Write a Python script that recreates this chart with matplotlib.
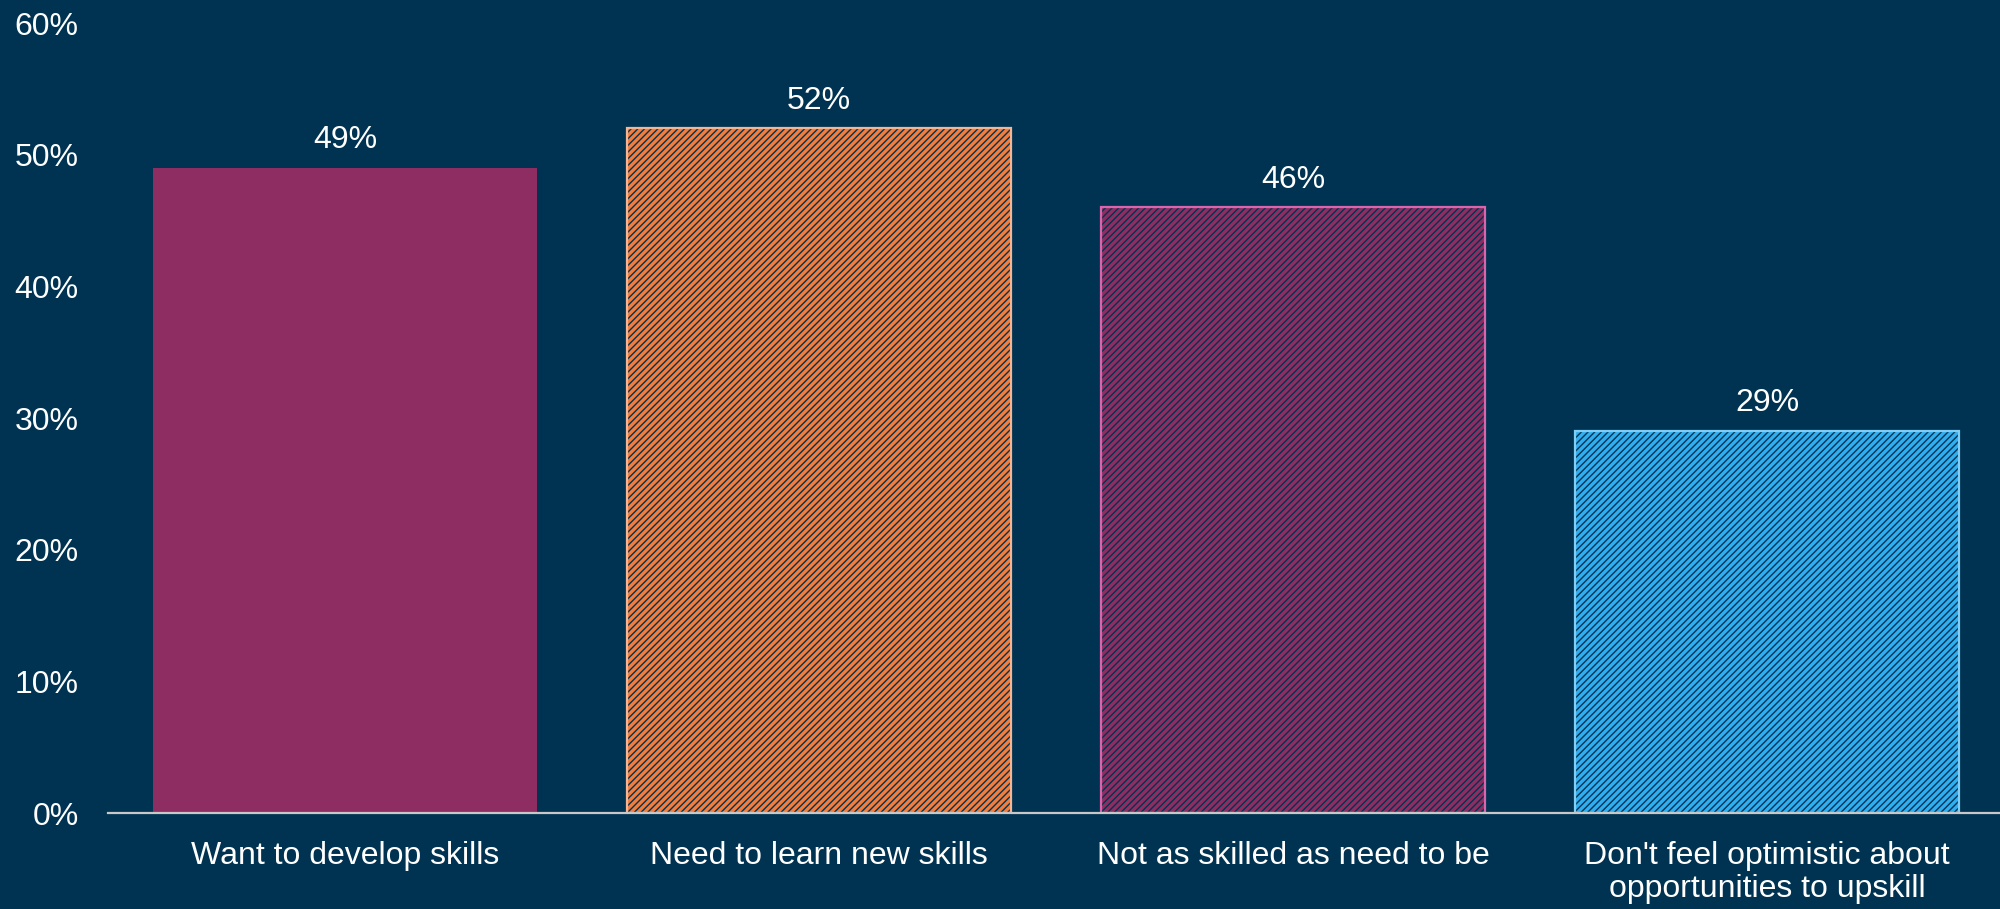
import matplotlib
matplotlib.use("Agg")
import matplotlib.pyplot as plt
import numpy as np

navy = "#003352"
purple = "#8E2D62"
orange = "#F47C3C"
skyblue = "#30AEF0"

categories = [
    "Want to develop skills",
    "Need to learn new skills",
    "Not as skilled as need to be",
    "Don't feel optimistic about\nopportunities to upskill",
]
values = [49, 52, 46, 29]
fills = [purple, orange, purple, skyblue]
hatches = [None, "/////", "/////", "/////"]
edges = [None, "#F6B592", "#D866AC", "#80CDF5"]
yticks = [0, 10, 20, 30, 40, 50, 60]

plt.rcParams["font.family"] = ["Liberation Sans", "DejaVu Sans"]
plt.rcParams["hatch.linewidth"] = 1.0

fig = plt.figure(figsize=(20, 9.09), dpi=100, facecolor=navy)
ax = fig.add_axes([0.054, 0.1056, 0.948, 0.869])
ax.set_facecolor(navy)

x = np.arange(len(categories))
width = 0.81
for i in range(len(categories)):
    if hatches[i] is None:
        ax.bar(x[i], values[i], width=width, color=fills[i], linewidth=0, zorder=2)
    else:
        # hatch in navy, then a light outline on top
        ax.bar(x[i], values[i], width=width, facecolor=fills[i], edgecolor=navy,
               hatch=hatches[i], linewidth=0, zorder=2)
        ax.bar(x[i], values[i], width=width, facecolor="none",
               edgecolor=edges[i], linewidth=1.6, zorder=3)
    ax.annotate(f"{values[i]}%", (x[i], values[i]), xytext=(0, 20),
                textcoords="offset points", ha="center", va="center",
                color="white", fontsize=23)

ax.set_xlim(-0.5, 3.5)
ax.set_ylim(0, 60)
ax.set_yticks(yticks)
ax.set_yticklabels([f"{v}%" for v in yticks])
ax.set_xticks(x)
ax.set_xticklabels(categories, linespacing=1.15)
ax.tick_params(axis="y", length=0, pad=21, labelsize=23, colors="white")
ax.tick_params(axis="x", length=0, pad=20, labelsize=23, colors="white")

for s in ["top", "right", "left"]:
    ax.spines[s].set_visible(False)
ax.spines["bottom"].set_color("#C8C8C8")
ax.spines["bottom"].set_linewidth(1.6)
ax.spines["bottom"].set_zorder(4)

fig.savefig("out.png", dpi=100, facecolor=navy)
